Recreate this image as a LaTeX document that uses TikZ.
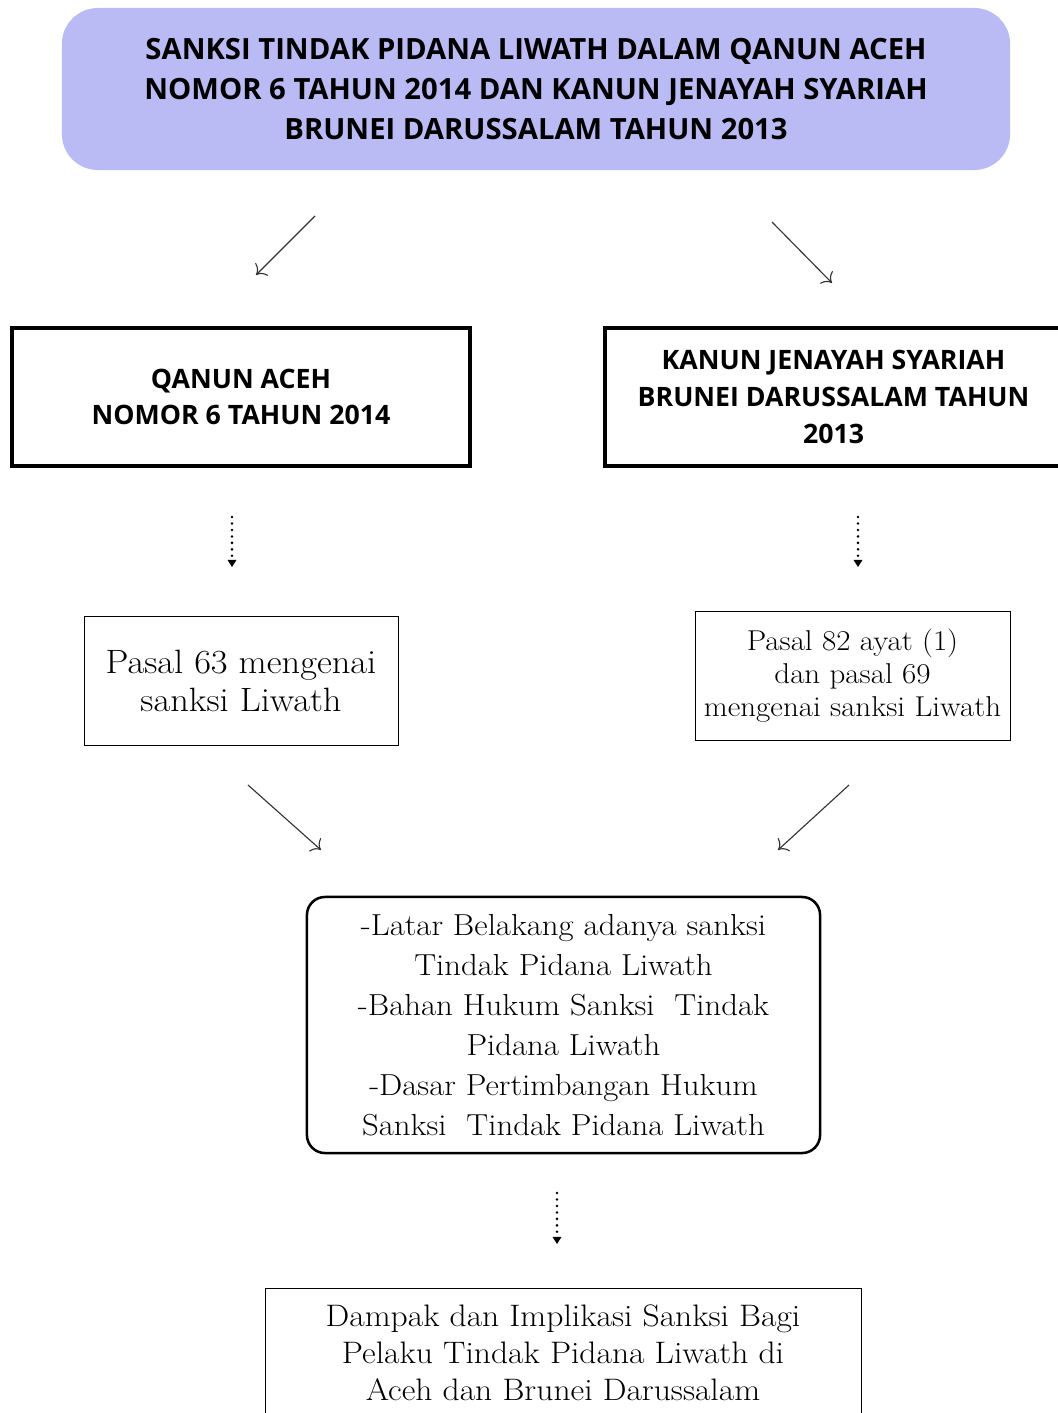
\documentclass[tikz,border=0pt]{standalone}
\usepackage{fontspec}
\setmainfont{Latin Modern Roman}[FakeStretch=1.08]
\newfontfamily\headfont{Open Sans}
\usetikzlibrary{arrows.meta}
\definecolor{titlefill}{RGB}{186,186,245}

\begin{document}
\begin{tikzpicture}[x=0.025cm, y=-0.025cm, semithick,
  headbox/.style={draw, line width=2.4pt, align=center, inner sep=0pt,
    font=\headfont\bfseries\fontsize{19}{26}\selectfont},
  pasalbox/.style={draw, thin, align=center, inner sep=0pt},
  slant/.style={-{To[length=6pt]}, line width=0.8pt, black!80},
  dots/.style={dash pattern=on 0pt off 4.6pt, line cap=round, line width=2pt,
    -{Triangle[length=5pt,width=6pt]}}]
  \useasboundingbox (0,0) rectangle (1058,1413);
  \clip (0,0) rectangle (1058,1413);

  % judul
  \node[fill=titlefill, rounded corners=0.9cm, minimum width=23.7cm, minimum height=4.05cm,
    align=center, font=\headfont\bfseries\fontsize{20.8}{28.5}\selectfont] (judul) at (536,89)
    {SANKSI TINDAK PIDANA LIWATH DALAM QANUN ACEH\\
     NOMOR 6 TAHUN 2014 DAN KANUN JENAYAH SYARIAH\\
     BRUNEI DARUSSALAM TAHUN 2013};

  \node[headbox, minimum width=11.45cm, minimum height=3.45cm] (qanun) at (241,397)
    {QANUN ACEH\\NOMOR 6 TAHUN 2014};
  \node[headbox, minimum width=11.43cm, minimum height=3.45cm] (kanun) at (833.5,397)
    {KANUN JENAYAH SYARIAH\\BRUNEI DARUSSALAM TAHUN\\2013};

  \node[pasalbox, minimum width=7.85cm, minimum height=3.225cm,
    font=\fontsize{24}{27.5}\selectfont] (pasalA) at (241,681)
    {Pasal 63 mengenai\\sanksi Liwath};
  \node[pasalbox, minimum width=7.875cm, minimum height=3.225cm,
    font=\fontsize{20.4}{23.4}\selectfont] (pasalB) at (852.5,675.5)
    {Pasal 82 ayat (1)\\dan pasal 69\\mengenai sanksi Liwath};

  \node[draw, line width=1.8pt, rounded corners=0.45cm, align=center, inner sep=0pt,
    minimum width=12.825cm, minimum height=6.4cm,
    font=\fontsize{21.6}{28.4}\selectfont] (bahasan) at (563.5,1025)
    {-Latar Belakang adanya sanksi\\Tindak Pidana Liwath\\
     -Bahan Hukum Sanksi\ \ Tindak\\Pidana Liwath\\
     -Dasar Pertimbangan Hukum\\Sanksi\ \ Tindak Pidana Liwath};

  \node[draw, thin, align=center, inner sep=0pt, minimum width=14.9cm, minimum height=3.25cm,
    font=\fontsize{22.1}{26.3}\selectfont] (dampak) at (563,1353)
    {Dampak dan Implikasi Sanksi Bagi\\Pelaku Tindak Pidana Liwath di\\Aceh dan Brunei Darussalam};

  % panah
  \coordinate (a1) at (315,216); \coordinate (b1) at (256,275);
  \coordinate (a2) at (772,222); \coordinate (b2) at (832,283);
  \coordinate (a3) at (248,785); \coordinate (b3) at (321,850);
  \coordinate (a4) at (849,785); \coordinate (b4) at (778,850);
  \draw[slant] (a1) -- (b1);
  \draw[slant] (a2) -- (b2);
  \draw[slant] (a3) -- (b3);
  \draw[slant] (a4) -- (b4);

  \coordinate (d1) at (232,517); \coordinate (e1) at (232,567);
  \coordinate (d2) at (858,517); \coordinate (e2) at (858,567);
  \coordinate (d3) at (557,1193); \coordinate (e3) at (557,1244);
  \draw[dots] (d1) -- (e1);
  \draw[dots] (d2) -- (e2);
  \draw[dots] (d3) -- (e3);
\end{tikzpicture}
\end{document}
